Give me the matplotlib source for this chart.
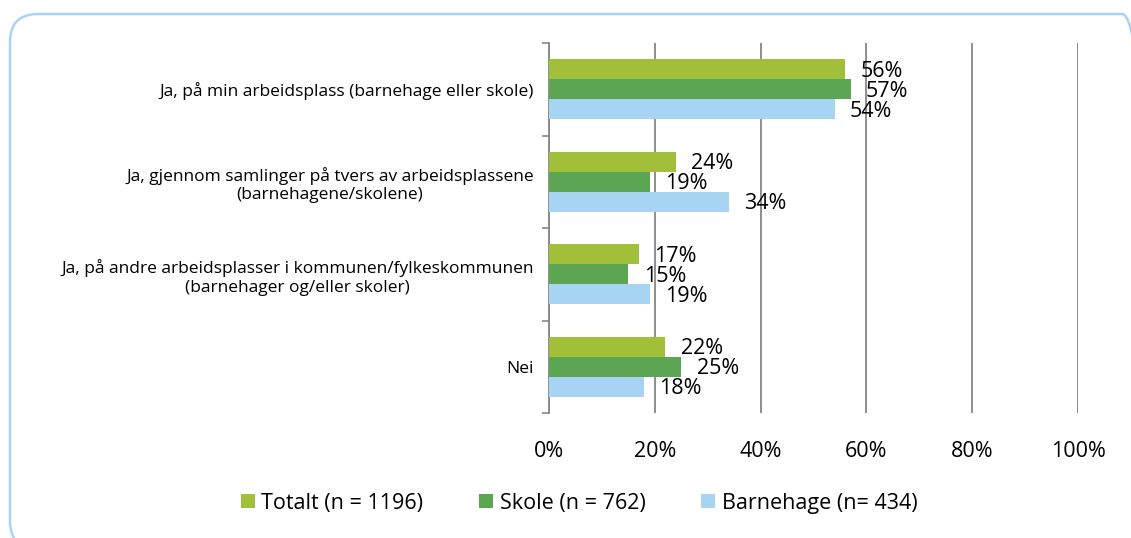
import numpy as np
import matplotlib.pyplot as plt
from matplotlib.patches import FancyBboxPatch
from matplotlib.transforms import IdentityTransform

plt.rcParams['font.family'] = ['Open Sans', 'DejaVu Sans']

categories = ['Ja, på min arbeidsplass (barnehage eller skole)',
              'Ja, gjennom samlinger på tvers av arbeidsplassene\n(barnehagene/skolene)',
              'Ja, på andre arbeidsplasser i kommunen/fylkeskommunen\n(barnehager og/eller skoler)',
              'Nei']
series_names = ['Totalt (n = 1196)', 'Skole (n = 762)', 'Barnehage (n= 434)']
totalt = [56, 24, 17, 22]
skole = [57, 19, 15, 25]
barnehage = [54, 34, 19, 18]
colors = ['#A2BF3A', '#5BA553', '#A8D4F4']
xticks = [0, 20, 40, 60, 80, 100]

W, H = 1131, 538
fig = plt.figure(figsize=(W / 100, H / 100), dpi=100)

# rounded light blue frame, in display pixels (origin bottom-left)
frame = FancyBboxPatch((10, H - 549), 1140, 535, boxstyle='round,pad=0,rounding_size=28',
                       transform=IdentityTransform(), facecolor='none',
                       edgecolor='#A9D4F5', linewidth=1.8)
fig.patches.append(frame)

ax = fig.add_axes([549 / W, 1 - 413 / H, (1078 - 549) / W, 370 / H])

n = len(categories)
centers = np.arange(n)[::-1] + 0.5
h = 0.218
for i, (vals, name, c) in enumerate(zip([totalt, skole, barnehage], series_names, colors)):
    y = centers + (1 - i) * h
    ax.barh(y, vals, height=h, color=c, label=name, zorder=3)
    for yy, v in zip(y, vals):
        ax.annotate(f'{v}%', (v, yy), xytext=(11, -1.5), textcoords='offset points',
                    va='center', ha='left', fontsize=15.5, zorder=4)

ax.set_xlim(0, 100)
ax.set_ylim(0, n)
ax.set_xticks(xticks)
ax.set_xticklabels([f'{t}%' for t in xticks], fontsize=15.5)
ax.tick_params(axis='x', length=0, pad=20)
ax.set_yticks(np.arange(n + 1))
ax.set_yticklabels([])
ax.tick_params(axis='y', direction='out', length=5, color='#868686', width=1.2)
ax.set_yticks(centers, minor=True)
ax.set_yticklabels(categories, minor=True, fontsize=12.5, multialignment='center')
ax.tick_params(axis='y', which='minor', length=0, pad=11)

ax.grid(axis='x', color='#868686', linewidth=1.3, zorder=0)
for s in ['top', 'right', 'bottom']:
    ax.spines[s].set_visible(False)
ax.spines['left'].set_color('#868686')
ax.spines['left'].set_linewidth(1.3)

fig.legend(loc='center', bbox_to_anchor=(579 / W, 1 - 503 / H), ncol=3, frameon=False,
           fontsize=15.5, handlelength=0.65, handleheight=0.65, handletextpad=0.3,
           columnspacing=2.6)

fig.savefig('out.png', dpi=100)
